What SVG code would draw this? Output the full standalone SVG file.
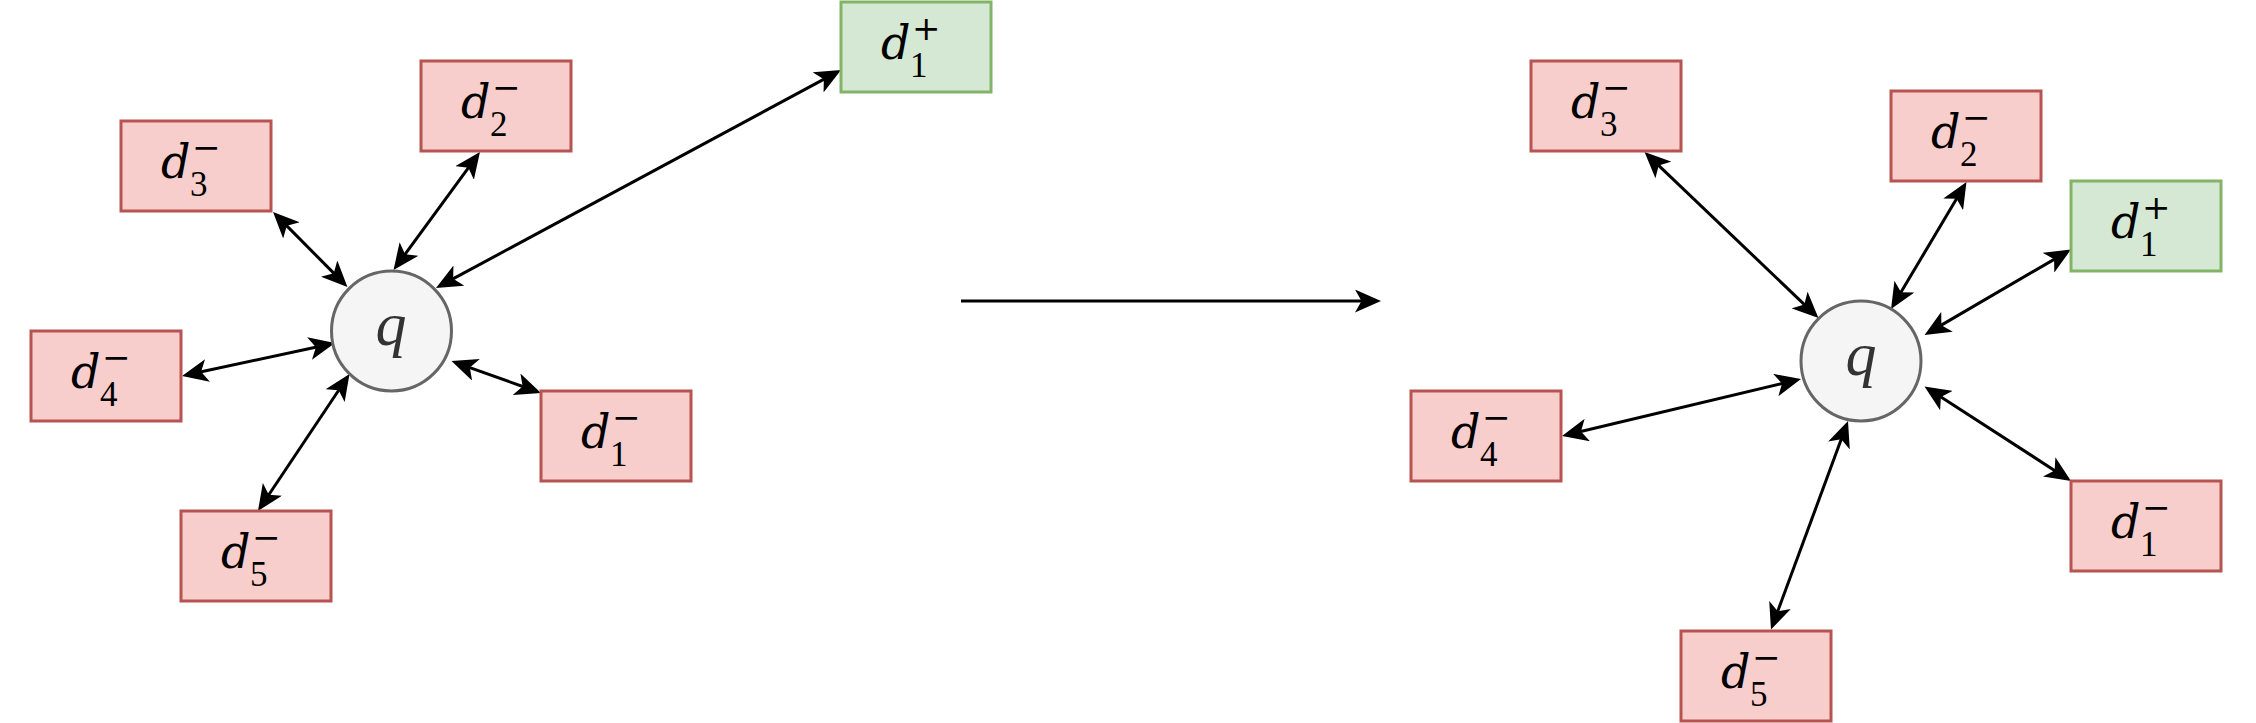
<svg xmlns="http://www.w3.org/2000/svg" width="2256" height="723" viewBox="0 0 2256 723">
<style>
.neg{fill:#f8cecc;stroke:#b85450;stroke-width:3}
.pos{fill:#d5e8d4;stroke:#82b366;stroke-width:3}
.qc{fill:#f5f5f5;stroke:#666666;stroke-width:3}
.lbl{font-family:"Liberation Serif","DejaVu Serif",serif;fill:#000}
.d{font-family:"DejaVu Serif",serif;font-style:italic;font-size:46px}
.sub{font-size:35px}
.sup{font-family:"DejaVu Serif",serif;font-size:34px}
.q{font-family:"Liberation Serif","DejaVu Serif",serif;font-style:italic;font-size:62px;fill:#333333;text-anchor:middle}
.c{stroke:#000;stroke-width:3;fill:none;marker-start:url(#ah);marker-end:url(#ah)}
.c1{stroke:#000;stroke-width:3;fill:none;marker-end:url(#ah)}
</style>
<defs>
<marker id="ah" markerUnits="userSpaceOnUse" viewBox="0 0 26 23" markerWidth="26" markerHeight="23" refX="11" refY="11.5" orient="auto-start-reverse">
<path d="M26,11.5 L0,0 L6.5,11.5 L0,23 Z" fill="#000"/>
</marker>
</defs>
<rect width="2256" height="723" fill="#ffffff"/>
<g id="connectors">
<line class="c" x1="449.2" y1="280.9" x2="827.8" y2="77.1"/>
<line class="c" x1="402.4" y1="257.9" x2="471.1" y2="164.1"/>
<line class="c" x1="336.9" y1="276.4" x2="283.6" y2="222.6"/>
<line class="c" x1="320.3" y1="346.2" x2="196.7" y2="372.8"/>
<line class="c" x1="341.2" y1="386.5" x2="266.3" y2="498.5"/>
<line class="c" x1="465.6" y1="366.1" x2="526.9" y2="388"/>
<line class="c1" x1="961" y1="301" x2="1366" y2="301"/>
<line class="c" x1="1807.6" y1="307.6" x2="1655.4" y2="162.4"/>
<line class="c" x1="1898.7" y1="296.1" x2="1958.8" y2="194.9"/>
<line class="c" x1="1937.5" y1="327.4" x2="2058" y2="257.1"/>
<line class="c" x1="1786.4" y1="382.5" x2="1576.6" y2="432.5"/>
<line class="c" x1="1937.1" y1="394.6" x2="2058.4" y2="472.9"/>
<line class="c" x1="1842.8" y1="435.1" x2="1776.2" y2="615.4"/>
</g>
<g id="q-left"><circle class="qc" cx="391.5" cy="331" r="60"/><text class="q" x="391" y="345">q</text></g>
<g id="d1p-left" transform="translate(841,2)"><rect class="pos" width="150" height="90"/><text class="lbl"><tspan class="d" x="40" y="57">d</tspan><tspan class="sub" x="69" y="75">1</tspan><tspan class="sup" x="71" y="38">+</tspan></text></g>
<g id="d2n-left" transform="translate(421,61)"><rect class="neg" width="150" height="90"/><text class="lbl"><tspan class="d" x="40" y="57">d</tspan><tspan class="sub" x="69" y="75">2</tspan><tspan class="sup" x="71" y="38">−</tspan></text></g>
<g id="d3n-left" transform="translate(121,121)"><rect class="neg" width="150" height="90"/><text class="lbl"><tspan class="d" x="40" y="57">d</tspan><tspan class="sub" x="69" y="75">3</tspan><tspan class="sup" x="71" y="38">−</tspan></text></g>
<g id="d4n-left" transform="translate(31,331)"><rect class="neg" width="150" height="90"/><text class="lbl"><tspan class="d" x="40" y="57">d</tspan><tspan class="sub" x="69" y="75">4</tspan><tspan class="sup" x="71" y="38">−</tspan></text></g>
<g id="d1n-left" transform="translate(541,391)"><rect class="neg" width="150" height="90"/><text class="lbl"><tspan class="d" x="40" y="57">d</tspan><tspan class="sub" x="69" y="75">1</tspan><tspan class="sup" x="71" y="38">−</tspan></text></g>
<g id="d5n-left" transform="translate(181,511)"><rect class="neg" width="150" height="90"/><text class="lbl"><tspan class="d" x="40" y="57">d</tspan><tspan class="sub" x="69" y="75">5</tspan><tspan class="sup" x="71" y="38">−</tspan></text></g>
<g id="q-right"><circle class="qc" cx="1861" cy="361" r="60"/><text class="q" x="1861" y="375">q</text></g>
<g id="d3n-right" transform="translate(1531,61)"><rect class="neg" width="150" height="90"/><text class="lbl"><tspan class="d" x="40" y="57">d</tspan><tspan class="sub" x="69" y="75">3</tspan><tspan class="sup" x="71" y="38">−</tspan></text></g>
<g id="d2n-right" transform="translate(1891,91)"><rect class="neg" width="150" height="90"/><text class="lbl"><tspan class="d" x="40" y="57">d</tspan><tspan class="sub" x="69" y="75">2</tspan><tspan class="sup" x="71" y="38">−</tspan></text></g>
<g id="d1p-right" transform="translate(2071,181)"><rect class="pos" width="150" height="90"/><text class="lbl"><tspan class="d" x="40" y="57">d</tspan><tspan class="sub" x="69" y="75">1</tspan><tspan class="sup" x="71" y="38">+</tspan></text></g>
<g id="d4n-right" transform="translate(1411,391)"><rect class="neg" width="150" height="90"/><text class="lbl"><tspan class="d" x="40" y="57">d</tspan><tspan class="sub" x="69" y="75">4</tspan><tspan class="sup" x="71" y="38">−</tspan></text></g>
<g id="d1n-right" transform="translate(2071,481)"><rect class="neg" width="150" height="90"/><text class="lbl"><tspan class="d" x="40" y="57">d</tspan><tspan class="sub" x="69" y="75">1</tspan><tspan class="sup" x="71" y="38">−</tspan></text></g>
<g id="d5n-right" transform="translate(1681,631)"><rect class="neg" width="150" height="90"/><text class="lbl"><tspan class="d" x="40" y="57">d</tspan><tspan class="sub" x="69" y="75">5</tspan><tspan class="sup" x="71" y="38">−</tspan></text></g>
</svg>
